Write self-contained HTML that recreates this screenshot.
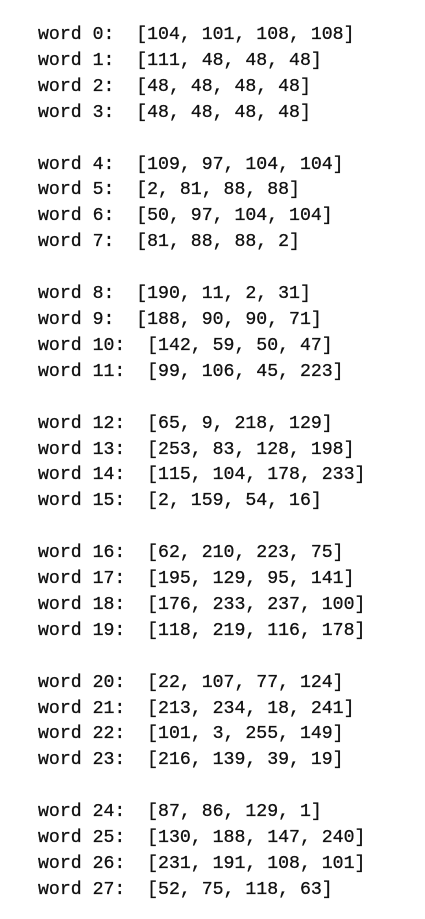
<!DOCTYPE html>
<html><head><meta charset="utf-8"><style>
html,body{margin:0;padding:0;background:#fff;width:425px;height:919px;overflow:hidden}
pre{position:absolute;left:38px;top:23px;margin:0;font-family:"Liberation Mono",monospace;font-size:18.2px;line-height:25.9px;color:#111;-webkit-text-stroke:0.3px #111}
</style></head><body><pre>word 0:  [104, 101, 108, 108]
word 1:  [111, 48, 48, 48]
word 2:  [48, 48, 48, 48]
word 3:  [48, 48, 48, 48]

word 4:  [109, 97, 104, 104]
word 5:  [2, 81, 88, 88]
word 6:  [50, 97, 104, 104]
word 7:  [81, 88, 88, 2]

word 8:  [190, 11, 2, 31]
word 9:  [188, 90, 90, 71]
word 10:  [142, 59, 50, 47]
word 11:  [99, 106, 45, 223]

word 12:  [65, 9, 218, 129]
word 13:  [253, 83, 128, 198]
word 14:  [115, 104, 178, 233]
word 15:  [2, 159, 54, 16]

word 16:  [62, 210, 223, 75]
word 17:  [195, 129, 95, 141]
word 18:  [176, 233, 237, 100]
word 19:  [118, 219, 116, 178]

word 20:  [22, 107, 77, 124]
word 21:  [213, 234, 18, 241]
word 22:  [101, 3, 255, 149]
word 23:  [216, 139, 39, 19]

word 24:  [87, 86, 129, 1]
word 25:  [130, 188, 147, 240]
word 26:  [231, 191, 108, 101]
word 27:  [52, 75, 118, 63]</pre></body></html>
